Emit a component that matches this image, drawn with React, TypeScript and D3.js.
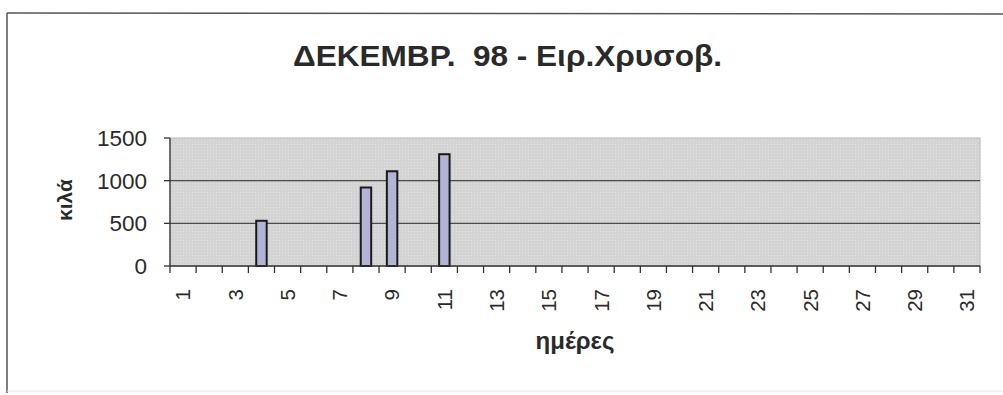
import React from "react";
import * as d3 from "d3";

const TITLE = "ΔΕΚΕΜΒΡ.\u00A0\u00A098 - Ειρ.Χρυσοβ.";
const Y_TITLE = "κιλά";
const X_TITLE = "ημέρες";
const days: string[] = Array.from({ length: 31 }, (_, i) => String(i + 1));
const kilos: number[] = [
  0, 0, 0, 530, 0, 0, 0, 920, 1110, 0, 1310, 0, 0, 0, 0, 0,
  0, 0, 0, 0, 0, 0, 0, 0, 0, 0, 0, 0, 0, 0, 0,
];
const yTicks: number[] = [0, 500, 1000, 1500];
const xLabelDays: string[] = days.filter((d) => +d % 2 === 1);

const W = 1003;
const H = 395;
const plot = { left: 170, right: 980, top: 138, bottom: 266 };

export default function App() {
  const x = d3.scaleBand<string>().domain(days).range([plot.left, plot.right]).padding(0);
  const y = d3.scaleLinear().domain([0, 1500]).range([plot.bottom, plot.top]);
  const bw = x.bandwidth() / 2.5;
  const font = "Arial, 'Liberation Sans', sans-serif";
  const textCol = "#2a2a2a";
  const boundaries = days.map((d) => x(d) as number).concat([plot.right]);

  return (
    <svg
      width={W}
      height={H}
      style={{ position: "absolute", left: 0, top: 0, background: "#fff" }}
      fontFamily={font}
    >
      <defs>
        <pattern id="dots" width="3" height="3" patternUnits="userSpaceOnUse">
          <rect width="3" height="3" fill="#d3d3d3" />
          <rect width="1" height="1" fill="#e4e4e4" />
        </pattern>
      </defs>
      {/* outer frame */}
      <line x1={7} y1={13} x2={1003} y2={14} stroke="#555" strokeWidth={1.5} />
      <line x1={7} y1={13} x2={7} y2={393} stroke="#555" strokeWidth={1.5} />
      <line x1={7} y1={391} x2={1003} y2={391} stroke="#e8e8e8" strokeWidth={1} />

      <text
        x={293}
        y={66}
        textAnchor="start"
        fontSize={29}
        fontWeight="bold"
        fill={textCol}
        textLength={429}
        lengthAdjust="spacingAndGlyphs"
      >
        {TITLE}
      </text>

      {/* plot area */}
      <rect
        x={plot.left}
        y={plot.top}
        width={plot.right - plot.left}
        height={plot.bottom - plot.top}
        fill="url(#dots)"
        stroke="#b8b8b8"
        strokeWidth={1}
      />
      {yTicks
        .filter((t) => t > 0 && t < 1500)
        .map((t) => (
          <line
            key={"g" + t}
            x1={plot.left}
            x2={plot.right}
            y1={y(t)}
            y2={y(t)}
            stroke="#4a4a4a"
            strokeWidth={1.3}
          />
        ))}

      {/* bars */}
      {kilos.map((v, i) =>
        v > 0 ? (
          <rect
            key={"b" + i}
            x={(x(days[i]) as number) + (x.bandwidth() - bw) / 2}
            y={y(v)}
            width={bw}
            height={y(0) - y(v)}
            fill="#b3b3d6"
            stroke="#1a1a1a"
            strokeWidth={2}
          />
        ) : null
      )}

      {/* axes */}
      <line x1={plot.left} x2={plot.left} y1={plot.top} y2={plot.bottom} stroke="#333" strokeWidth={1.3} />
      <line x1={plot.left} x2={plot.right} y1={plot.bottom} y2={plot.bottom} stroke="#333" strokeWidth={1.5} />
      {yTicks.map((t) => (
        <g key={"y" + t}>
          <line x1={plot.left - 6} x2={plot.left} y1={y(t)} y2={y(t)} stroke="#333" strokeWidth={1.3} />
          <text
            x={147}
            y={y(t)}
            dy="0.36em"
            textAnchor="end"
            fontSize={22.5}
            fill={textCol}
          >
            {t}
          </text>
        </g>
      ))}
      {boundaries.map((bx, i) => (
        <line
          key={"t" + i}
          x1={bx}
          x2={bx}
          y1={plot.bottom}
          y2={plot.bottom + 7}
          stroke="#333"
          strokeWidth={1.3}
        />
      ))}
      {xLabelDays.map((d) => {
        const cx = (x(d) as number) + x.bandwidth() / 2;
        return (
          <text
            key={"xl" + d}
            transform={`translate(${cx},${289}) rotate(-90)`}
            dy="0.36em"
            textAnchor="end"
            fontSize={20.5}
            fill={textCol}
          >
            {d}
          </text>
        );
      })}

      <text
        transform={`translate(64,200) rotate(-90)`}
        dy="0.36em"
        textAnchor="middle"
        fontSize={21}
        fontWeight="bold"
        fill={textCol}
      >
        {Y_TITLE}
      </text>
      <text x={575} y={349} textAnchor="middle" fontSize={24} fontWeight="bold" fill={textCol}>
        {X_TITLE}
      </text>
    </svg>
  );
}
